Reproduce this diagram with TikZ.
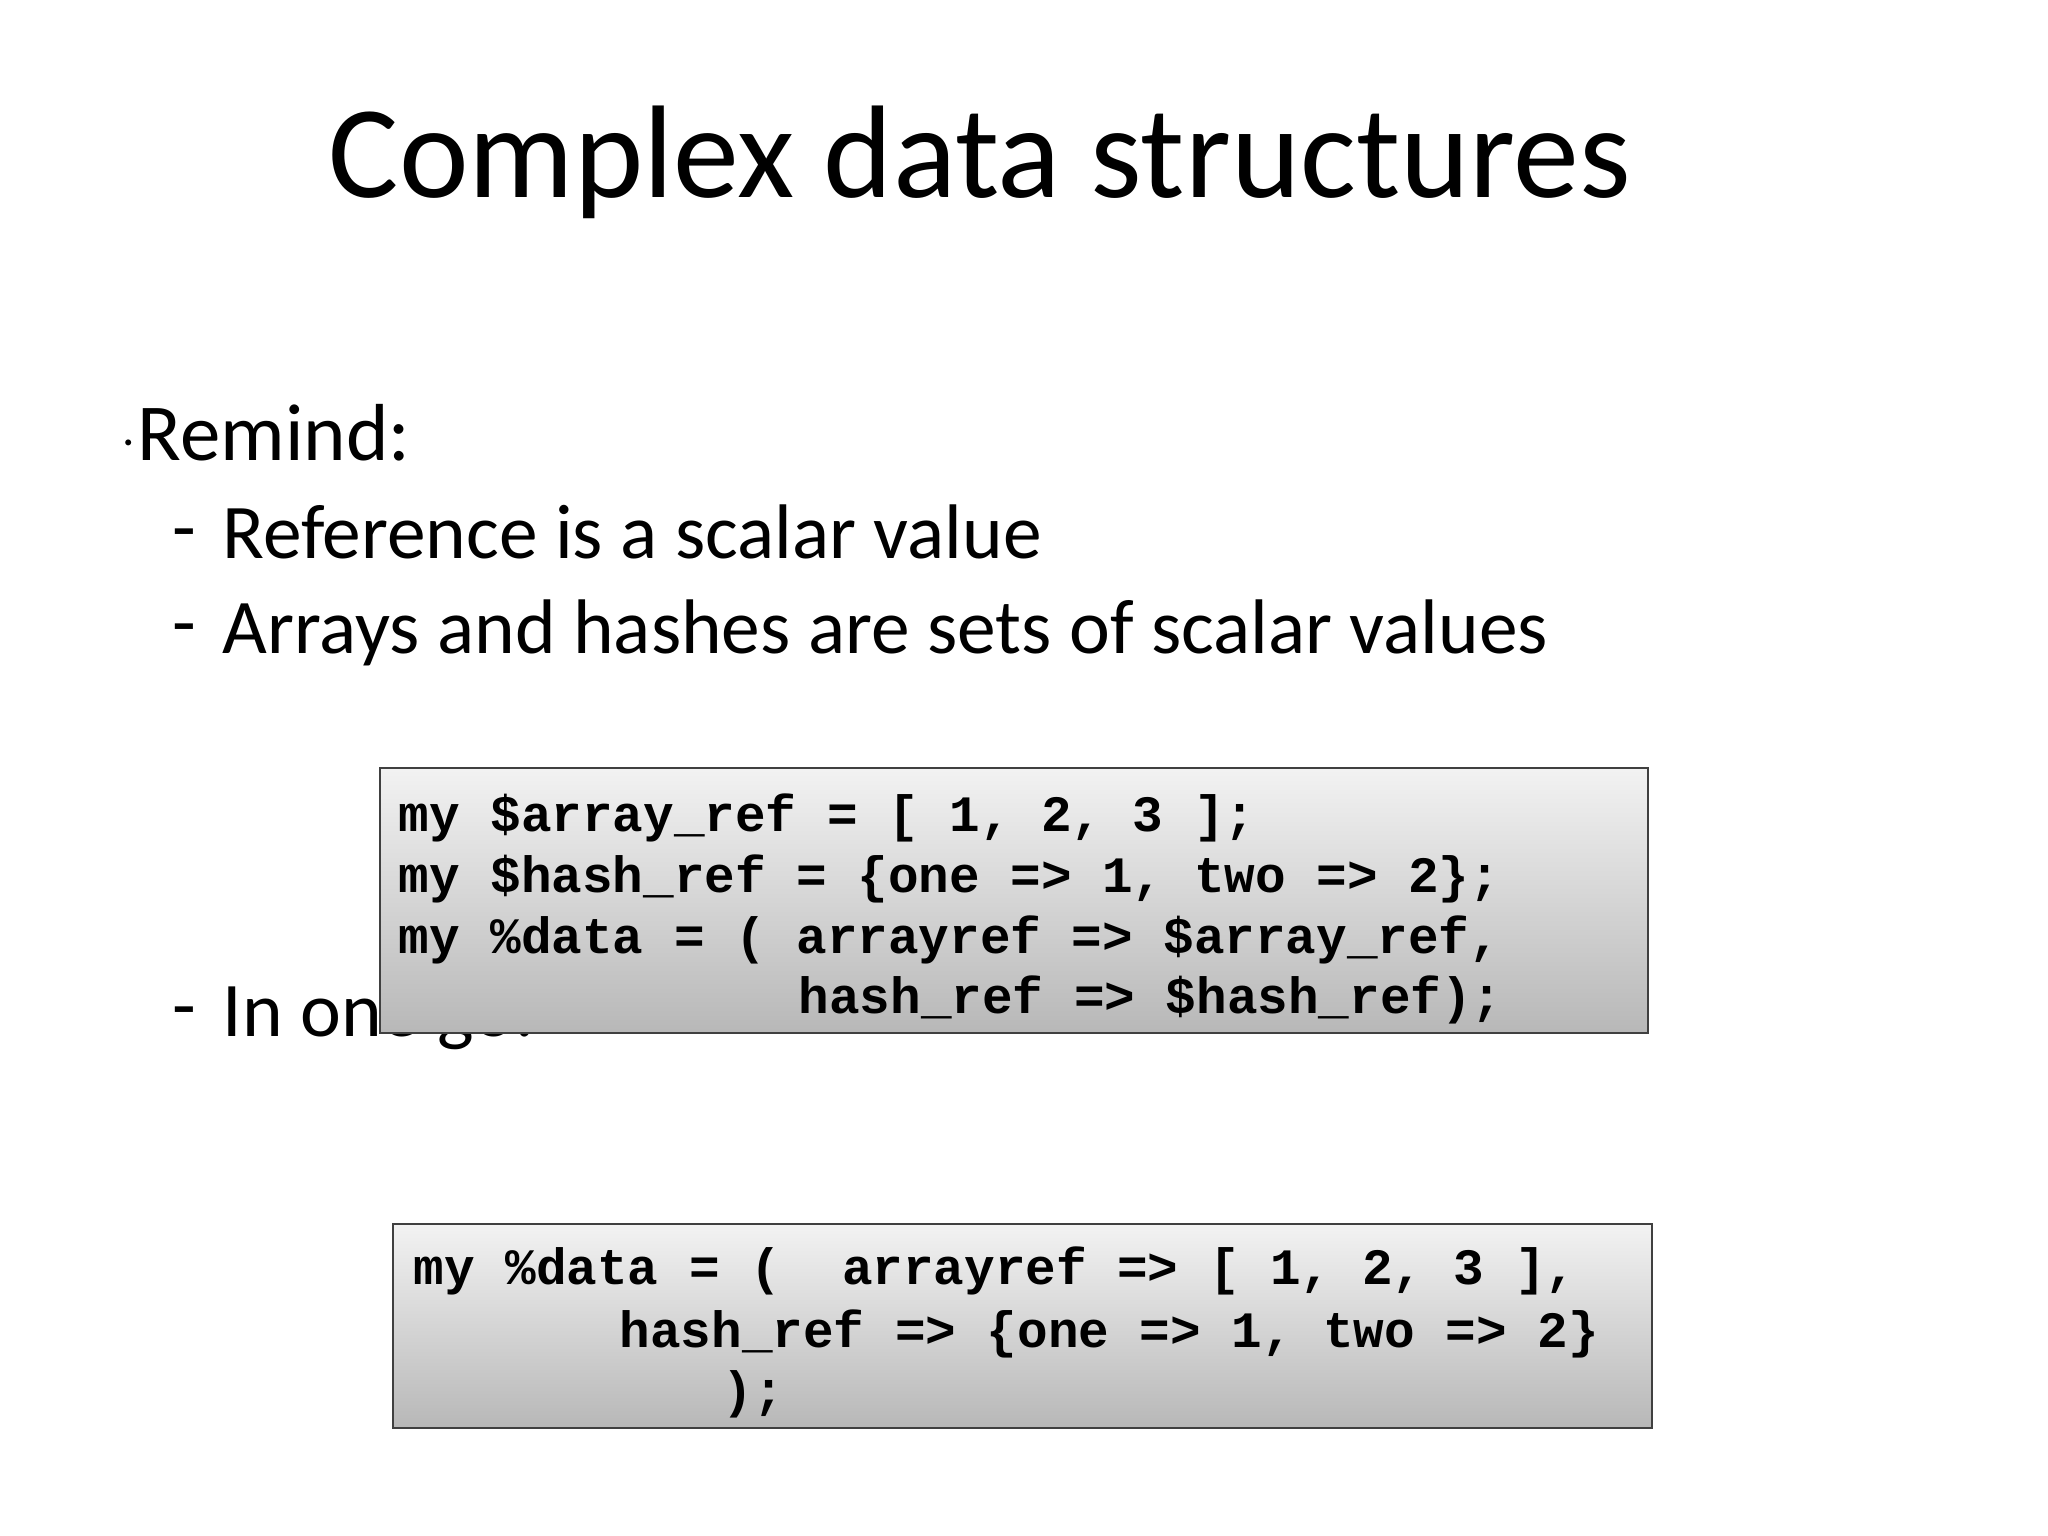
\documentclass[tikz,border=0pt]{standalone}
\usepackage{fontspec}
\setmainfont{Carlito}
\setmonofont{Liberation Mono}
\begin{document}
\begin{tikzpicture}[x=0.01cm,y=-0.01cm,
  body/.style={anchor=base west,inner sep=0pt,font=\fontsize{22}{26}\selectfont},
  code/.style={anchor=base west,inner sep=0pt,font=\fontsize{14.5}{17}\selectfont\ttfamily\bfseries},
  codebox/.style={draw=black!75,line width=0.8pt,top color=black!5,bottom color=black!28}]
\useasboundingbox (0,0) rectangle (2048,1536);
\node[anchor=base,inner sep=0pt,font=\fontsize{37.5}{42}\selectfont] (title) at (980,197) {Complex data structures};
\node[body,font=\fontsize{23}{27}\selectfont] (remind) at (137,460) {Remind:};
\node[anchor=base,inner sep=0pt,font=\fontsize{14}{14}\selectfont] (dot) at (129,445) {.};
\node[body] (d1) at (172,553) {-};
\node[body] (l1) at (222,558) {Reference is a scalar value};
\node[body] (d2) at (172,648) {-};
\node[body] (l2) at (222,653) {Arrays and hashes are sets of scalar values};
\node[body] (d3) at (172,1031) {-};
\node[body] (l3) at (222,1036) {In one go:};
\path[codebox] (380,768) rectangle (1648,1033);
\node[code] (a1) at (398,831) {my \$array\_ref = [ 1, 2, 3 ];};
\node[code] (a2) at (398,892) {my \$hash\_ref = \{one => 1, two => 2\};};
\node[code] (a3) at (398,953) {my \%data = ( arrayref => \$array\_ref,};
\node[code] (a4) at (798,1013) {hash\_ref => \$hash\_ref);};
\path[codebox] (393,1224) rectangle (1652,1428);
\node[code] (b1) at (413,1284) {my \%data = (~~arrayref => [ 1, 2, 3 ],};
\node[code] (b2) at (619,1347) {hash\_ref => \{one => 1, two => 2\}};
\node[code] (b3) at (722,1407) {);};
\end{tikzpicture}
\end{document}
